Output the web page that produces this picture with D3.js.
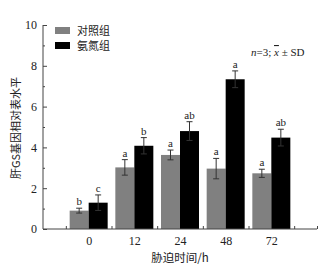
<!DOCTYPE html>
<html>
<head>
<meta charset="utf-8">
<script src="https://cdn.jsdelivr.net/npm/d3@7"></script>
<style>
body { margin: 0; background: #fff; }
svg { display: block; }
</style>
</head>
<body>
<div id="chart-area"></div>
<script>
// data
var times = ["0", "12", "24", "48", "72"];
var seriesNames = ["对照组", "氨氮组"];
var controlMean = [0.9, 3.02, 3.63, 2.96, 2.73];
var controlSd = [0.12, 0.38, 0.24, 0.5, 0.2];
var ammoniaMean = [1.29, 4.08, 4.8, 7.34, 4.48];
var ammoniaSd = [0.38, 0.4, 0.46, 0.41, 0.41];
var controlLetters = ["b", "a", "a", "a", "a"];
var ammoniaLetters = ["c", "b", "ab", "a", "ab"];
var yTicks = [0, 2, 4, 6, 8, 10];
var yMinor = [1, 3, 5, 7, 9];

var colors = ["#808080", "#000000"];
var serif = "'Liberation Serif', 'DejaVu Serif', serif";
var cjk = "'Noto Sans CJK SC', sans-serif";

var svg = d3.select("#chart-area").append("svg")
    .attr("width", 329)
    .attr("height", 269);

var plot = { left: 43, right: 317, top: 25, bottom: 229 };

// slots 0..6, groups sit at 1..5
var x = d3.scaleLinear().domain([0, 6]).range([plot.left, plot.right]);
var y = d3.scaleLinear().domain([0, 10]).range([plot.bottom, plot.top]);
var barW = 19;

var data = [];
times.forEach(function(t, i) {
    data.push({ i: i, s: 0, mean: controlMean[i], sd: controlSd[i], letter: controlLetters[i] });
    data.push({ i: i, s: 1, mean: ammoniaMean[i], sd: ammoniaSd[i], letter: ammoniaLetters[i] });
});
function barX(d) { return x(d.i + 1) + (d.s == 0 ? -barW : 0); }

// bars
svg.selectAll("rect.bar").data(data).enter().append("rect")
    .attr("class", "bar")
    .attr("x", barX)
    .attr("y", function(d) { return y(d.mean); })
    .attr("width", barW)
    .attr("height", function(d) { return y(0) - y(d.mean); })
    .attr("fill", function(d) { return colors[d.s]; });

// error bars
var err = svg.selectAll("g.err").data(data).enter().append("g")
    .attr("class", "err")
    .attr("stroke", "#333")
    .attr("stroke-width", 1);
err.append("line")
    .attr("x1", function(d) { return barX(d) + barW / 2; })
    .attr("x2", function(d) { return barX(d) + barW / 2; })
    .attr("y1", function(d) { return y(d.mean - d.sd); })
    .attr("y2", function(d) { return y(d.mean + d.sd); });
[1, -1].forEach(function(sign) {
    err.append("line")
        .attr("x1", function(d) { return barX(d) + barW / 2 - 3; })
        .attr("x2", function(d) { return barX(d) + barW / 2 + 3; })
        .attr("y1", function(d) { return y(d.mean + sign * d.sd); })
        .attr("y2", function(d) { return y(d.mean + sign * d.sd); });
});

// significance letters
svg.selectAll("text.letter").data(data).enter().append("text")
    .attr("class", "letter")
    .attr("x", function(d) { return barX(d) + barW / 2; })
    .attr("y", function(d) { return y(d.mean + d.sd) - 3; })
    .attr("text-anchor", "middle")
    .attr("font-family", serif)
    .attr("font-size", "11px")
    .attr("fill", "#222")
    .text(function(d) { return d.letter; });

// y axis
var yAxis = svg.append("g")
    .attr("transform", "translate(" + plot.left + ",0)")
    .call(d3.axisRight(y).tickValues(yTicks).tickSize(4).tickFormat(d3.format("d")));
yAxis.select(".domain").attr("d", "M0," + plot.top + "V" + plot.bottom);
yAxis.selectAll(".tick text")
    .attr("x", -6)
    .attr("text-anchor", "end")
    .attr("font-family", serif)
    .attr("font-size", "12px")
    .attr("fill", "#222");
svg.append("g")
    .attr("transform", "translate(" + plot.left + ",0)")
    .call(d3.axisRight(y).tickValues(yMinor).tickSize(2).tickFormat(""))
    .select(".domain").remove();

// x axis
var xAxis = svg.append("g")
    .attr("transform", "translate(0," + plot.bottom + ")")
    .call(d3.axisBottom(x).tickValues([1, 2, 3, 4, 5]).tickSize(0)
        .tickFormat(function(d) { return times[d - 1]; }));
xAxis.select(".domain").attr("d", "M" + plot.left + ",0H" + plot.right);
xAxis.selectAll(".tick text")
    .attr("y", 7)
    .attr("font-family", serif)
    .attr("font-size", "12px")
    .attr("fill", "#222");
svg.append("g")
    .attr("transform", "translate(0," + plot.bottom + ")")
    .call(d3.axisTop(x).tickValues([0.5, 1.5, 2.5, 3.5, 4.5, 5.5, 6]).tickSize(3).tickFormat(""))
    .select(".domain").remove();
svg.selectAll(".domain, .tick line").attr("stroke", "#444");

// axis titles
svg.append("text")
    .attr("x", (plot.left + plot.right) / 2)
    .attr("y", 262)
    .attr("text-anchor", "middle")
    .attr("font-family", cjk)
    .attr("font-size", "11.5px")
    .attr("fill", "#222")
    .text("胁迫时间/h");
svg.append("text")
    .attr("transform", "translate(20,128) rotate(-90)")
    .attr("text-anchor", "middle")
    .attr("font-family", cjk)
    .attr("font-size", "11px")
    .attr("fill", "#222")
    .text("肝GS基因相对表水平");

// legend
var legend = svg.append("g").attr("transform", "translate(55,27)");
seriesNames.forEach(function(name, i) {
    var row = legend.append("g").attr("transform", "translate(0," + (i * 15) + ")");
    row.append("rect")
        .attr("width", 15)
        .attr("height", 7)
        .attr("fill", colors[i]);
    row.append("text")
        .attr("x", 22)
        .attr("y", 8)
        .attr("font-family", cjk)
        .attr("font-size", "11px")
        .attr("fill", "#222")
        .text(name);
});

// note
var note = svg.append("text")
    .attr("x", 251)
    .attr("y", 56)
    .attr("font-family", serif)
    .attr("font-size", "11px")
    .attr("fill", "#222");
note.append("tspan").attr("font-style", "italic").text("n");
note.append("tspan").text("=3;  ");
note.append("tspan").attr("font-style", "italic")
    .style("text-decoration", "overline").text("x");
note.append("tspan").text(" ± SD");
</script>
</body>
</html>
